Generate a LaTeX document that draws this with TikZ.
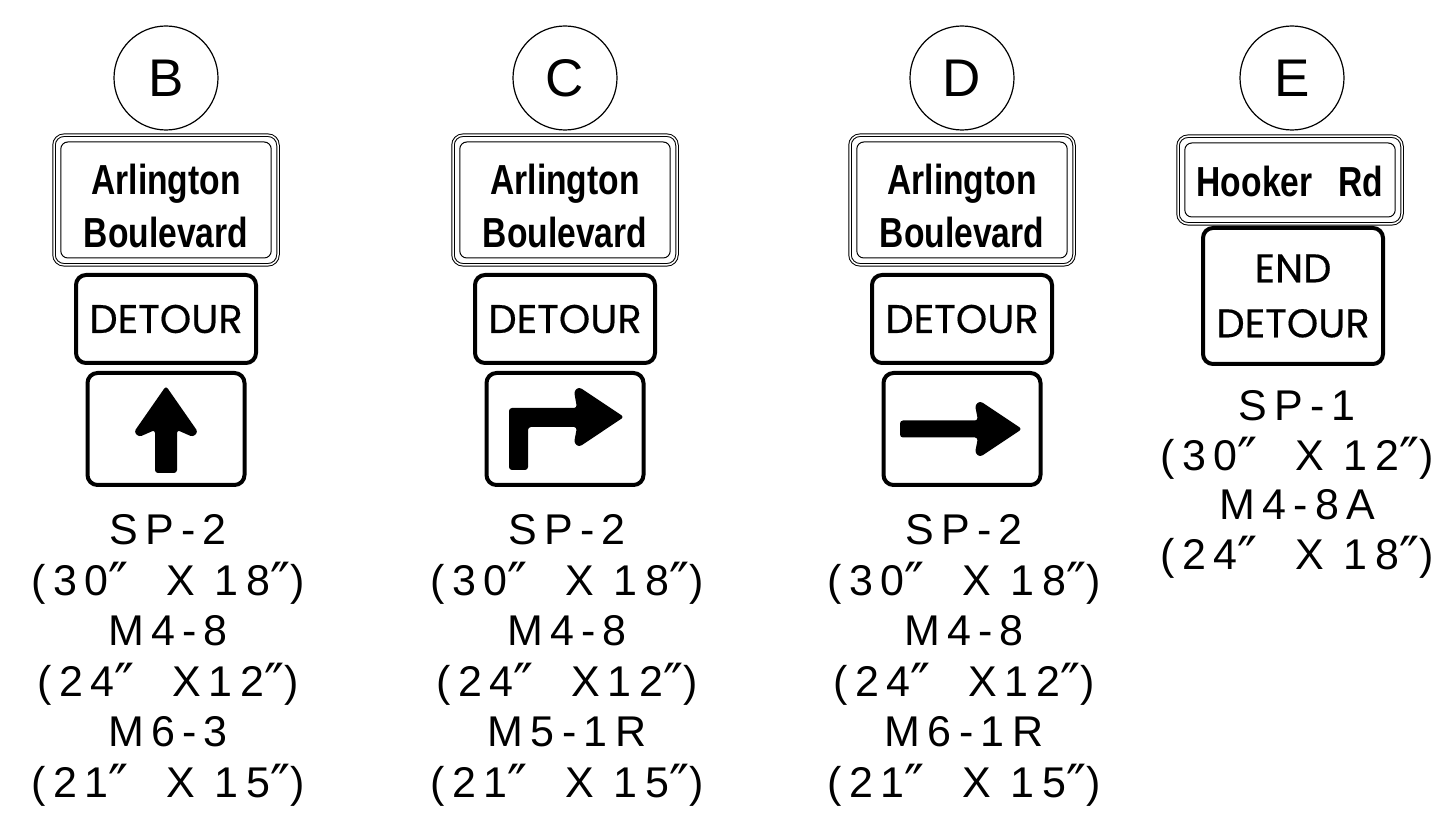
\documentclass[tikz,border=0pt]{standalone}
\usepackage{fontspec}
\setmainfont{Liberation Sans}
\newfontfamily\routefont{Liberation Sans}[FakeStretch=0.8]
\newfontfamily\legendfont{Poppins}[FakeBold=0.4]
\newfontfamily\notefont{Liberation Sans}[LetterSpace=17]
\newfontfamily\primefont{DejaVu Sans}
\newcommand{\inch}{\raisebox{-3pt}{\primefont\fontsize{27}{27}\selectfont\char"2033}}
\tikzset{
  badge/.style={circle, draw, line width=0.6pt, minimum size=52pt, inner sep=0, font=\fontsize{26.5}{30}\selectfont},
  guide/.style={rectangle, draw, double, double distance=0.75pt, line width=0.5pt, rounded corners=5pt, minimum width=112pt, minimum height=64.8pt, inner sep=0, outer sep=0},
  route/.style={inner sep=0, align=center, font=\routefont\bfseries\fontsize{21}{26.5}\selectfont},
  inset/.style={line width=0.5pt, rounded corners=3.5pt},
  legend/.style={rectangle, draw, line width=2pt, rounded corners=5pt, minimum width=90pt, minimum height=44pt, inner sep=0, outer sep=0, align=center, font=\legendfont\fontsize{20}{27.5}\selectfont},
  arrowbox/.style={rectangle, draw, line width=2pt, rounded corners=5pt, minimum width=78.5pt, minimum height=56pt, inner sep=0, outer sep=0},
  note/.style={anchor=base, inner sep=0, font=\notefont\fontsize{21.5}{25}\selectfont}
}
\begin{document}
\begin{tikzpicture}[x=0.5pt,y=-0.5pt]
\useasboundingbox (0,0) rectangle (1452,817);
\foreach \c/\x/\m in {B/166/M6-3, C/565/M5-1R, D/962/M6-1R}{
  \node[badge] (badge\c) at (\x,78) {\c};
  \node[guide] (guide\c) at (\x,200) {};
  \draw[inset] ([xshift=3.4pt,yshift=-3.4pt]guide\c.north west) rectangle ([xshift=-3.4pt,yshift=3.4pt]guide\c.south east);
  \node[route] (route\c) at (\x,206) {Arlington\\Boulevard};
  \node[legend] (legend\c) at (\x,319) {DETOUR};
  \node[arrowbox] (arrow\c) at (\x,429) {};
  \node[note] (plate\c) at (\x+2,545) {SP-2};
  \node[note] (platesize\c) at (\x+2,596) {(30\inch\ \ X 18\inch)};
  \node[note] (detour\c) at (\x+2,646) {M4-8};
  \node[note] (detoursize\c) at (\x+2,697) {(24\inch\ \ X12\inch)};
  \node[note] (turn\c) at (\x+2,747) {\m};
  \node[note] (turnsize\c) at (\x+2,798) {(21\inch\ \ X 15\inch)};
}
\fill[rounded corners=1.5pt] (166,386) -- (198,432) -- (193,437) -- (177,430) -- (177,473) -- (155,473) -- (155,430) -- (139,437) -- (134,432) -- cycle;
\fill[rounded corners=1.5pt] (509,470) -- (509,408) -- (577,408) -- (574,391) -- (579,387) -- (624,417) -- (579,447) -- (574,443) -- (577,427) -- (528,427) -- (528,470) -- cycle;
\fill[rounded corners=1.5pt] (900,420.5) -- (978,420.5) -- (975,405) -- (980,401) -- (1022,429) -- (980,457) -- (975,453) -- (978,437.5) -- (900,437.5) -- cycle;
\node[badge] (badgeE) at (1292,78) {E};
\node[guide, minimum height=43.8pt] (guideE) at (1290,180) {};
\draw[inset] ([xshift=3.4pt,yshift=-3.4pt]guideE.north west) rectangle ([xshift=-3.4pt,yshift=3.4pt]guideE.south east);
\node[route] (routeE) at (1290,181) {Hooker\hspace{13pt}Rd};
\node[legend, minimum height=68pt] (legendE) at (1293,296) {END\\DETOUR};
\node[note] (plateE) at (1297,421) {SP-1};
\node[note] (platesizeE) at (1297,471) {(30\inch\ \ X 12\inch)};
\node[note] (detourE) at (1297,520) {M4-8A};
\node[note] (detoursizeE) at (1297,570) {(24\inch\ \ X 18\inch)};
\end{tikzpicture}
\end{document}
